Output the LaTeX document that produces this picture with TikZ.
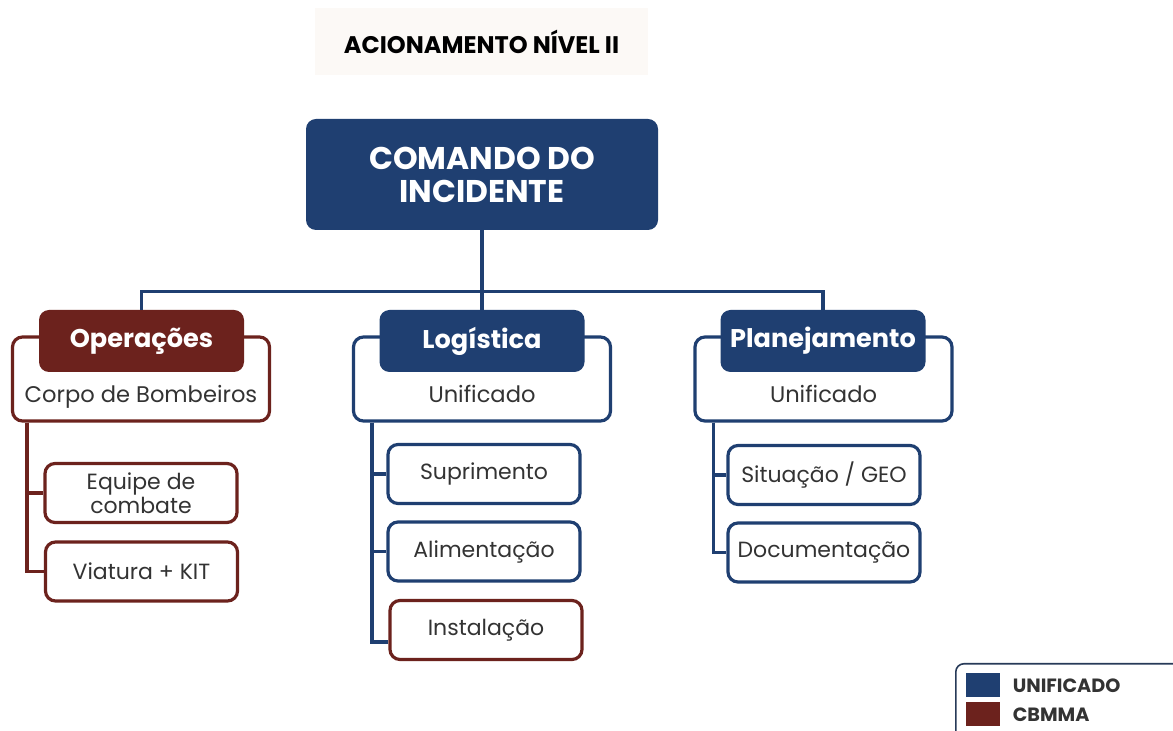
\documentclass[tikz,border=0pt]{standalone}
\usepackage{fontspec}
\setmainfont{Poppins}
\usetikzlibrary{positioning}
\definecolor{navy}{RGB}{31,63,113}
\definecolor{maroon}{RGB}{108,34,29}
\definecolor{ink}{RGB}{51,51,51}
\definecolor{titlebg}{RGB}{252,249,246}

\begin{document}
\begin{tikzpicture}[x=0.5pt, y=-0.5pt,
        titlebox/.style={rectangle, fill=titlebg, minimum width=166.5pt, minimum height=33.5pt, font=\bfseries\fontsize{12}{14}\selectfont},
        cmdbox/.style={rectangle, rounded corners=5pt, fill=navy, text=white, align=center, font=\bfseries\fontsize{15.7}{16.5}\selectfont, minimum width=176pt, minimum height=55.5pt},
        unitbox/.style={rectangle, rounded corners=5pt, draw=#1, line width=1.6pt, fill=white, minimum width=128.5pt, minimum height=42pt, inner ysep=0pt, text height=27pt, text depth=3pt, text=ink, font=\fontsize{11.3}{13}\selectfont},
        headbox/.style={rectangle, rounded corners=5pt, fill=#1, text=white, minimum width=102.5pt, minimum height=31pt, font=\bfseries\fontsize{12.8}{15}\selectfont},
        taskbox/.style={rectangle, rounded corners=5pt, draw=#1, line width=1.6pt, fill=white, minimum width=96pt, minimum height=29.5pt, inner ysep=2pt, align=center, text=ink, font=\fontsize{11}{12}\selectfont},
        treeline/.style={draw=#1, line width=1.6pt},
        legendbox/.style={rectangle, rounded corners=4pt, draw=navy!60!ink, line width=0.8pt, fill=white, minimum width=120pt, minimum height=45pt},
        swatch/.style={rectangle, fill=#1, minimum width=17pt, minimum height=12pt, inner sep=0pt},
        legtext/.style={inner sep=0pt, text=ink, font=\bfseries\fontsize{9.6}{11}\selectfont}
    ]
        \path[use as bounding box, fill=white] (0,0) rectangle (1173,731);

        % Title
        \node[titlebox] (title) at (481.5,41.5) {ACIONAMENTO NÍVEL II};
        \node[cmdbox] (cmd) at (482,174.5) {COMANDO DO\\INCIDENTE};

        % Sections
        \node[unitbox=maroon] (ops) at (141,379) {Corpo de Bombeiros};
        \node[unitbox=navy] (log) at (482,379) {Unificado};
        \node[unitbox=navy] (plan) at (823.5,379) {Unificado};
        \node[headbox=maroon] (opshead) at (141.5,341) {Operações};
        \node[headbox=navy] (loghead) at (482,341) {Logística};
        \node[headbox=navy] (planhead) at (823,341) {Planejamento};

        % Tasks
        \node[taskbox=maroon] (equipe) at (141,493) {Equipe de\\combate};
        \node[taskbox=maroon] (viatura) at (141.5,571.5) {Viatura + KIT};
        \node[taskbox=navy] (suprimento) at (484,474) {Suprimento};
        \node[taskbox=navy] (alimentacao) at (484,551.5) {Alimentação};
        \node[taskbox=maroon] (instalacao) at (486,630) {Instalação};
        \node[taskbox=navy] (situacao) at (824,475) {Situação / GEO};
        \node[taskbox=navy] (documentacao) at (824,552.5) {Documentação};

        % Connectors
        \draw[treeline=navy] (cmd.south) -- (loghead.north);
        \draw[treeline=navy] (opshead.north) -- ++(0,-18) -| (planhead.north);
        \draw[treeline=maroon] (ops.south west) ++(16,0) |- (equipe.west);
        \draw[treeline=maroon] (ops.south west) ++(16,0) |- (viatura.west);
        \draw[treeline=navy] (log.south west) ++(20,0) |- (suprimento.west);
        \draw[treeline=navy] (log.south west) ++(20,0) |- (alimentacao.west);
        \draw[treeline=navy] (log.south west) ++(20,0) |- ([yshift=-6pt]instalacao.west);
        \draw[treeline=navy] (plan.south west) ++(20,0) |- (situacao.west);
        \draw[treeline=navy] (plan.south west) ++(20,0) |- (documentacao.west);

        % Legend
        \node[legendbox, anchor=north west] (legend) at (955,663) {};
        \node[swatch=navy] (keyuni) at (983,685.5) {};
        \node[swatch=maroon] (keycb) at (983,714.5) {};
        \node[legtext, right=6pt of keyuni] (keyunitext) {UNIFICADO};
        \node[legtext, right=6pt of keycb] (keycbtext) {CBMMA};
\end{tikzpicture}
\end{document}
